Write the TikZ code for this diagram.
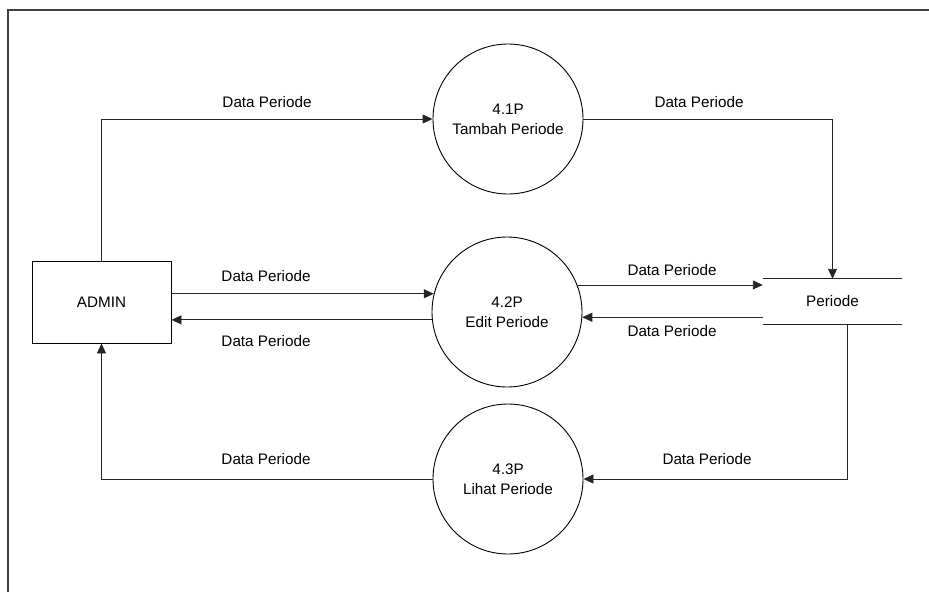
\documentclass[tikz,border=0pt]{standalone}
\usepackage{fontspec}
\setmainfont{Liberation Sans}
\usetikzlibrary{arrows.meta}
\begin{document}
\begin{tikzpicture}[x=1pt,y=-1pt,
  every node/.style={font=\fontsize{15.25}{20}\selectfont},
  process/.style={draw, circle, minimum size=150pt, inner sep=0pt, align=center, line width=0.9pt},
  entity/.style={draw, rectangle, minimum width=139pt, minimum height=82pt, inner sep=0pt, line width=0.9pt},
  store/.style={rectangle, minimum width=139pt, minimum height=45pt, inner sep=0pt},
  flow/.style={-{Triangle[length=10pt,width=9pt]}, line width=0.9pt, draw=black!85},
  plain/.style={line width=0.9pt, draw=black!85},
  lbl/.style={inner sep=0pt}
]
\useasboundingbox (0,0) rectangle (929,592);
% outer frame
\draw[line width=2pt, draw=black!75] (8,592) -- (8,10) -- (929,10);

% external entity, processes and data store
\node[entity] (admin) at (101.5,302) {ADMIN};
\node[process] (tambah) at (508,119) {4.1P\\Tambah Periode};
\node[process] (edit) at (507,312) {4.2P\\Edit Periode};
\node[process] (lihat) at (508,479) {4.3P\\Lihat Periode};
\node[store] (periode) at (832.5,301.5) {Periode};
\draw[plain] (periode.north west) -- (periode.north east);
\draw[plain] (periode.south west) -- (periode.south east);

% flows for 4.1P
\draw[flow] (admin.north) |- (tambah.west);
\draw[flow] (tambah.east) -| (periode.north);
\node[lbl] (l1) at (267,102) {Data Periode};
\node[lbl] (l2) at (699,102) {Data Periode};

% flows for 4.2P
\draw[flow] (admin.east |- edit.166) -- (edit.166);
\draw[flow] (edit.186) -- (admin.east |- edit.186);
\draw[flow] (edit.21) -- (periode.west |- edit.21);
\draw[flow] (periode.west |- edit.-4) -- (edit.-4);
\node[lbl] (l3) at (266,276) {Data Periode};
\node[lbl] (l4) at (266,341) {Data Periode};
\node[lbl] (l5) at (672,270) {Data Periode};
\node[lbl] (l6) at (672,331) {Data Periode};

% flows for 4.3P
\coordinate (pout) at ([xshift=14.5pt]periode.south);
\draw[flow] (pout) |- (lihat.east);
\draw[flow] (lihat.west) -| (admin.south);
\node[lbl] (l7) at (707,459) {Data Periode};
\node[lbl] (l8) at (266,459) {Data Periode};
\end{tikzpicture}
\end{document}
